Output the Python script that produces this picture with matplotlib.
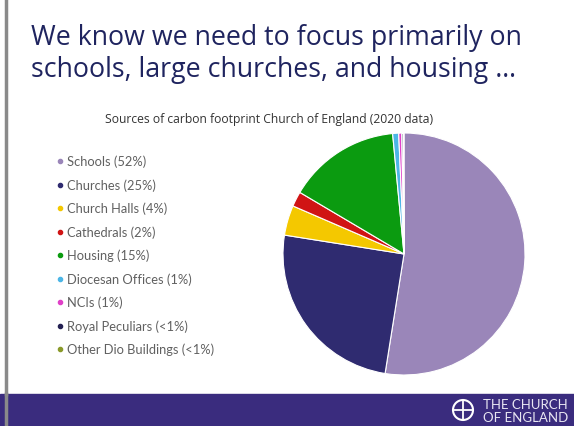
import matplotlib.pyplot as plt
from matplotlib.patches import Rectangle, Circle
from matplotlib.lines import Line2D

# dados do grafico
categorias = ['Schools (52%)', 'Churches (25%)', 'Church Halls (4%)', 'Cathedrals (2%)',
              'Housing (15%)', 'Diocesan Offices (1%)', 'NCIs (1%)',
              'Royal Peculiars (<1%)', 'Other Dio Buildings (<1%)']
valores = [52.5, 25, 4, 2, 15, 0.8, 0.4, 0.2, 0.1]
cores = ['#9a86b9', '#2f2b70', '#f4c800', '#d01414', '#0b9b10',
         '#4cb6e6', '#e040c8', '#232052', '#8a9a2a']

W, H = 574, 427
fig = plt.figure(figsize=(W / 100, H / 100), dpi=100)
fig.patch.set_facecolor('white')

def px(x, y):
    return x / W, 1 - y / H

# linha cinza da esquerda
fig.add_artist(Line2D([6 / W, 6 / W], [1, 1 - 395 / H], color='#8a8a8a', lw=2.5))

# faixa inferior
fig.add_artist(Rectangle((0, 0), 1, 32 / H, color='#3a2c7e', transform=fig.transFigure))
fig.add_artist(Line2D([6 / W, 6 / W], [0, 32 / H], color='#8a8a8a', lw=2.5))

# logo
fig.add_artist(Circle((463, H - 411), 10, transform=None, fill=False, ec='white', lw=1.5))
fig.add_artist(Line2D([463, 463], [H - 421, H - 401], transform=None, color='white', lw=1.3))
fig.add_artist(Line2D([453, 473], [H - 411, H - 411], transform=None, color='white', lw=1.3))
fig.text(*px(483, 405), 'THE CHURCH', color='#e8e6f2', fontsize=9.5, family='Lato',
         va='center')
fig.text(*px(483, 418), 'OF ENGLAND', color='#e8e6f2', fontsize=9.5, family='Lato',
         va='center')

# titulo
fig.text(*px(31, 45), 'We know we need to focus primarily on', color='#1f245f',
         fontsize=19.3, family='Open Sans', va='baseline')
fig.text(*px(31, 77), 'schools, large churches, and housing \u2026', color='#1f245f',
         fontsize=19.3, family='Open Sans', va='baseline')

fig.text(*px(269, 119), 'Sources of carbon footprint Church of England (2020 data)',
         color='#333333', fontsize=8.7, family='Open Sans', ha='center', va='center')

# legenda manual
for i, (lab, c) in enumerate(zip(categorias, cores)):
    y = 162 + i * 23.5
    fig.add_artist(Line2D([60 / W], [1 - y / H], marker='o', ms=3, color=c, mec=c))
    fig.text(*px(67, y), lab, color='#606060', fontsize=9.3, family='Lato', va='center')

# pizza
ax = fig.add_axes([283 / W, 1 - 376 / H, 242 / W, 242 / H])
ax.pie(valores, colors=cores, startangle=90, counterclock=False,
       wedgeprops=dict(edgecolor='white', linewidth=0.8))
ax.set_xlim(-1, 1)
ax.set_ylim(-1, 1)
ax.set_aspect('auto')
ax.axis('off')

fig.savefig('out.png', dpi=100)
